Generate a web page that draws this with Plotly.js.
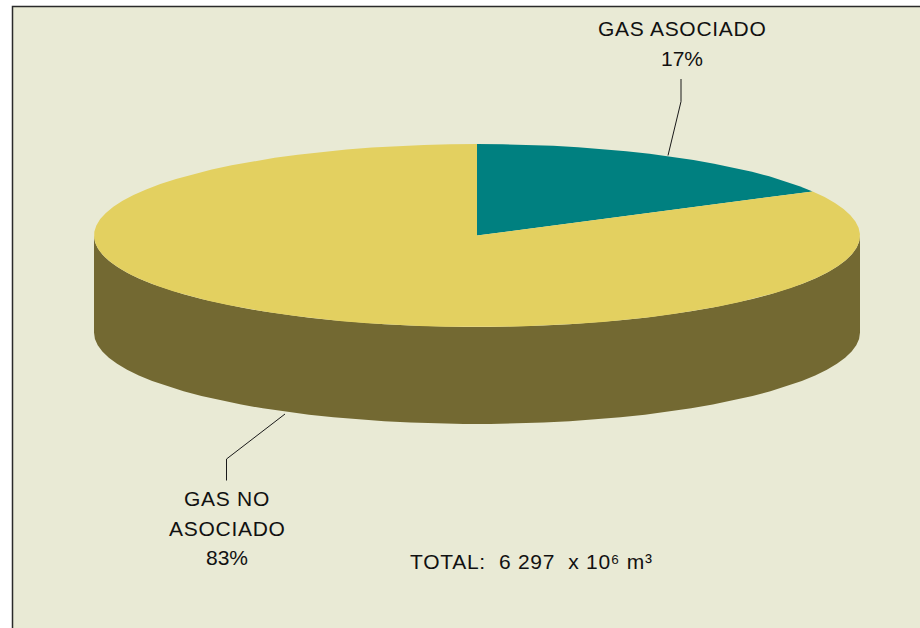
<!DOCTYPE html>
<html>
<head>
<meta charset="utf-8">
<script src="https://cdn.plot.ly/plotly-3.0.1.min.js"></script>
<style>
html,body{margin:0;padding:0;background:#fff}
#chart{width:920px;height:628px}
.annotation-text[data-unformatted*="A"]{letter-spacing:.72px}
</style>
</head>
<body>
<div id="chart"></div>
<script>
const categories = ['GAS ASOCIADO', 'GAS NO ASOCIADO'];
const shares = [17, 83];
const sliceColors = ['#008080', '#E3D060'];
const wallColor = '#736932';
const totalText = 'TOTAL:  6 297  x 10⁶ m³';

// Pie geometry in page-pixel axis units
const cx = 477, cy = 235.5, rx = 383, ry = 91.5, depth = 97;
const sum = shares.reduce((a, b) => a + b, 0);
const ptX = t => cx + rx * Math.sin(t);
const ptY = t => cy - ry * Math.cos(t);

// The rim is a coarse polygon, as in the reference's faceted outline
function arc(a0, a1) {
  const n = Math.max(2, Math.ceil((a1 - a0) / (4 * Math.PI / 180)));
  const out = [];
  for (let i = 0; i <= n; i++) out.push(a0 + (a1 - a0) * i / n);
  return out;
}

const traces = [];
let start = 0;
const slices = shares.map((v, i) => {
  const a0 = start, a1 = start + v / sum * 2 * Math.PI;
  start = a1;
  return {a0, a1, i};
});

// Outer wall: the front half of the rim of each slice, dropped by the depth
slices.forEach(s => {
  const lo = Math.max(s.a0, Math.PI / 2), hi = Math.min(s.a1, 3 * Math.PI / 2);
  if (hi <= lo) return;
  const ts = arc(lo, hi);
  traces.push({
    x: ts.map(ptX).concat(ts.slice().reverse().map(ptX)),
    y: ts.map(ptY).concat(ts.slice().reverse().map(t => ptY(t) + depth)),
    mode: 'lines', line: {width: 0}, fill: 'toself', fillcolor: wallColor,
    hoverinfo: 'skip', showlegend: false
  });
});

// Top faces
slices.forEach(s => {
  const ts = arc(s.a0, s.a1);
  traces.push({
    x: [cx].concat(ts.map(ptX), [cx]),
    y: [cy].concat(ts.map(ptY), [cy]),
    mode: 'lines', line: {width: 0}, fill: 'toself', fillcolor: sliceColors[s.i],
    name: categories[s.i], text: categories[s.i] + ': ' + shares[s.i] + '%',
    hoverinfo: 'text', showlegend: false
  });
});

// Leader lines
const leader = (xs, ys) => ({
  x: xs, y: ys, mode: 'lines', line: {color: '#1a1a1a', width: 1},
  hoverinfo: 'skip', showlegend: false
});
traces.push(leader([681, 681, 668], [79, 101.5, 155.5]));
traces.push(leader([226.5, 226.5, 285], [480.5, 459, 414]));

const font = {family: '"Liberation Sans", Arial, sans-serif', size: 21, color: '#111'};
const label = (text, x, y) => ({
  text, x, y, xref: 'x', yref: 'y', showarrow: false,
  xanchor: 'center', yanchor: 'middle', font
});

const layout = {
  width: 920, height: 628,
  margin: {l: 0, r: 0, t: 0, b: 0, pad: 0},
  paper_bgcolor: '#ffffff', plot_bgcolor: '#ffffff',
  showlegend: false,
  xaxis: {range: [0, 920], visible: false, fixedrange: true},
  yaxis: {range: [628, 0], visible: false, fixedrange: true},
  shapes: [{
    type: 'rect', xref: 'x', yref: 'y', layer: 'below',
    x0: 12.5, y0: 6.5, x1: 940, y1: 650,
    fillcolor: '#E9EAD5', line: {color: '#2a2a2a', width: 1.5}
  }],
  annotations: [
    label(categories[0], 682.5, 28.5),
    label(shares[0] + '%', 682, 58),
    label('GAS NO', 227, 498.5),
    label('ASOCIADO', 227, 528),
    label(shares[1] + '%', 227, 557),
    label(totalText, 531.5, 561)
  ]
};

Plotly.newPlot('chart', traces, layout, {displayModeBar: false});
</script>
</body>
</html>
